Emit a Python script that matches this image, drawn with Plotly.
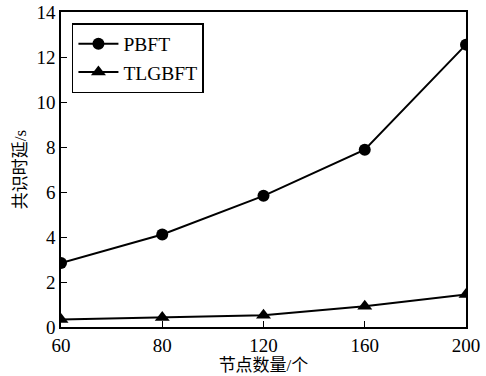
import plotly.graph_objects as go

nodes = ["60", "80", "120", "160", "200"]
pbft = [2.84, 4.11, 5.83, 7.88, 12.55]
tlgbft = [0.33, 0.42, 0.52, 0.92, 1.45]

font_serif = "Liberation Serif, Times New Roman, Noto Sans CJK SC, serif"

fig = go.Figure()
fig.add_trace(go.Scatter(x=nodes, y=pbft, mode="lines+markers", name="PBFT",
                         line=dict(color="black", width=2),
                         marker=dict(symbol="circle", size=12, color="black")))
fig.add_trace(go.Scatter(x=nodes, y=tlgbft, mode="lines+markers", name="TLGBFT",
                         line=dict(color="black", width=2),
                         marker=dict(symbol="triangle-up", size=13, color="black")))

fig.update_layout(
    width=486, height=376,
    margin=dict(l=61, r=20, t=12, b=49, autoexpand=False),
    plot_bgcolor="white", paper_bgcolor="white",
    font=dict(family=font_serif, size=19, color="black"),
    showlegend=True,
    legend=dict(x=0.027, y=0.965, xanchor="left", yanchor="top",
                bordercolor="black", borderwidth=1.5, bgcolor="white",
                font=dict(size=19.5), tracegroupgap=0, itemwidth=40),
    xaxis=dict(type="category", range=[0, 4], showline=True, linecolor="black",
               linewidth=1.5, mirror=True, ticks="inside", ticklen=6,
               tickcolor="black", showgrid=False, zeroline=False, automargin=False,
               title=dict(text="节点数量/个", font=dict(size=17), standoff=0)),
    yaxis=dict(range=[0, 14], dtick=2, showline=True, linecolor="black",
               linewidth=1.5, mirror=True, ticks="inside", ticklen=6,
               tickcolor="black", showgrid=False, zeroline=False, automargin=False,
               title=dict(text="共识时延/s", font=dict(size=17), standoff=6)),
)

fig.write_html("out.html", config={"displayModeBar": False},
               post_script="document.body.style.margin='0';document.body.style.overflow='hidden';")
